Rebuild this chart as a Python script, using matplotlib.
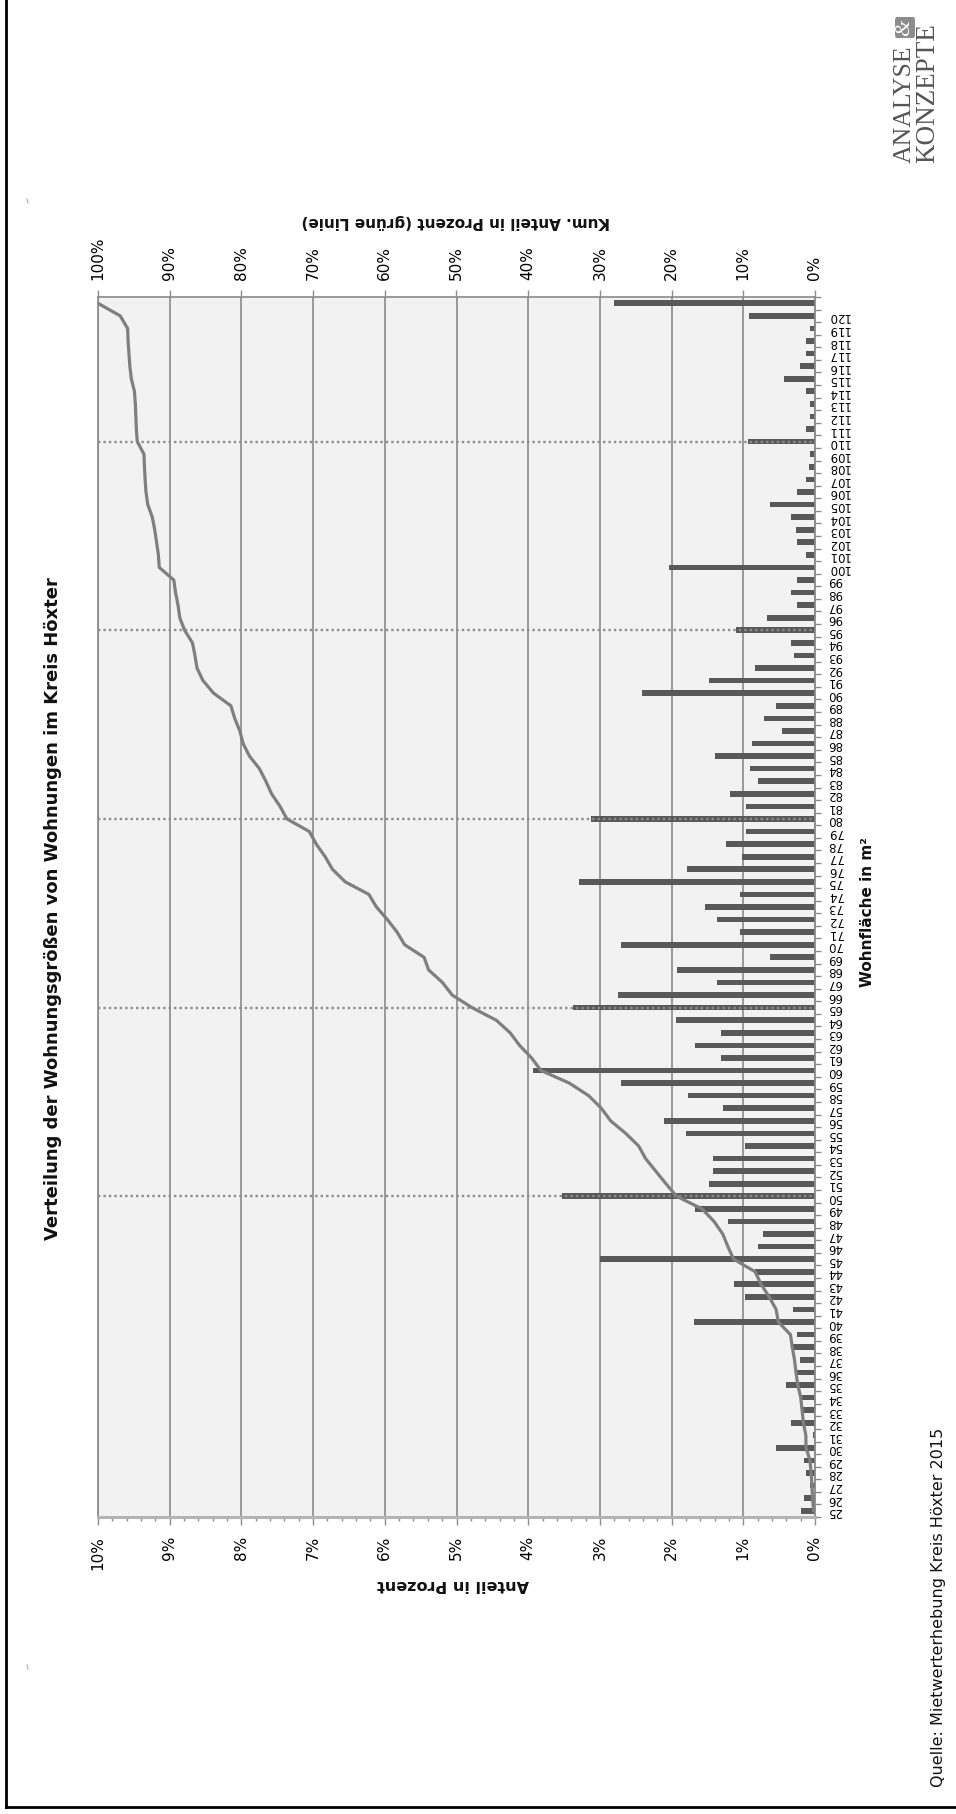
import matplotlib
matplotlib.use("Agg")
import matplotlib.pyplot as plt
from matplotlib.ticker import FixedLocator, FuncFormatter, MultipleLocator
from matplotlib.patches import FancyBboxPatch
from matplotlib.lines import Line2D
import numpy as np

# ---------------- data ----------------
categories = [str(v) for v in range(25, 121)] + [""]

anteil = [0.19, 0.16, 0.07, 0.12, 0.16, 0.55, 0.03, 0.34, 0.18, 0.19,
          0.41, 0.25, 0.21, 0.31, 0.25, 1.69, 0.31, 0.97, 1.13, 0.83,
          3.00, 0.80, 0.72, 1.21, 1.68, 3.53, 1.48, 1.42, 1.42, 0.97,
          1.80, 2.11, 1.29, 1.77, 2.70, 3.93, 1.31, 1.68, 1.31, 1.94,
          3.38, 2.75, 1.36, 1.93, 0.63, 2.71, 1.05, 1.36, 1.53, 1.05,
          3.29, 1.78, 1.02, 1.24, 0.96, 3.13, 0.96, 1.18, 0.80, 0.90,
          1.39, 0.88, 0.46, 0.71, 0.54, 2.41, 1.48, 0.83, 0.29, 0.34,
          1.10, 0.67, 0.25, 0.34, 0.25, 2.03, 0.12, 0.25, 0.26, 0.34,
          0.63, 0.25, 0.12, 0.09, 0.07, 0.93, 0.13, 0.07, 0.07, 0.13,
          0.43, 0.21, 0.12, 0.12, 0.07, 0.92, 2.80]

kumuliert = [0.19, 0.35, 0.42, 0.54, 0.70, 1.25, 1.28, 1.62, 1.80, 1.99,
             2.40, 2.65, 2.86, 3.17, 3.42, 5.11, 5.42, 6.39, 7.52, 8.35,
             11.35, 12.15, 12.87, 14.08, 15.76, 19.31, 20.79, 22.21, 23.63, 24.60,
             26.40, 28.51, 29.80, 31.57, 34.27, 38.22, 39.53, 41.21, 42.52, 44.46,
             47.84, 50.60, 51.96, 53.89, 54.52, 57.23, 58.28, 59.64, 61.17, 62.22,
             65.52, 67.30, 68.32, 69.56, 70.52, 73.65, 74.61, 75.79, 76.59, 77.49,
             78.88, 79.76, 80.22, 80.93, 81.47, 83.88, 85.36, 86.19, 86.48, 86.82,
             87.92, 88.59, 88.84, 89.18, 89.43, 91.46, 91.58, 91.83, 92.09, 92.43,
             93.06, 93.31, 93.43, 93.52, 93.59, 94.52, 94.65, 94.72, 94.79, 94.92,
             95.35, 95.56, 95.68, 95.80, 95.87, 96.90, 100.0]

dotted_categories = ["50", "65", "80", "95", "110"]

title = "Verteilung der Wohnungsgrößen von Wohnungen im Kreis Höxter"
xlabel_primary = "Anteil in Prozent"
xlabel_secondary = "Kum. Anteil in Prozent (grüne Linie)"
ylabel = "Wohnfläche in m²"
source = "Quelle: Mietwerterhebung Kreis Höxter 2015"

# ---------------- layout helpers ----------------
W, H = 956, 1815
plt.rcParams['font.family'] = ['DejaVu Sans']
fig = plt.figure(figsize=(W / 100, H / 100), dpi=100)

def fx(x):
    return x / W

def fy(y):
    return 1 - y / H

L, R, T, B = 98, 815, 298, 1518
ax = fig.add_axes([fx(L), fy(B), fx(R) - fx(L), fy(T) - fy(B)])
ax.set_facecolor('#f2f2f2')

pos = np.arange(len(categories))
ax.barh(pos, anteil, height=0.45, color='#595959', zorder=2)
ax.set_xlim(10, 0)
ax.set_ylim(-0.5, len(categories) - 0.5)

# vertical gridlines (primary major)
ax.xaxis.set_major_locator(MultipleLocator(1))
ax.xaxis.set_minor_locator(MultipleLocator(0.2))
ax.grid(axis='x', which='major', color='#8a8a8a', linewidth=1.2, zorder=0)
ax.set_axisbelow(True)
ax.xaxis.set_major_formatter(FuncFormatter(lambda v, p: f"{v:.0f}%"))
ax.tick_params(axis='x', which='major', direction='out', length=6, width=1,
               color='#8a8a8a', labelsize=11, pad=7, labelrotation=90)
ax.tick_params(axis='x', which='minor', direction='out', length=3, width=1,
               color='#8a8a8a')

# category axis on the right
ax.yaxis.tick_right()
ax.set_yticks(pos)
ax.set_yticklabels(categories)
ax.yaxis.set_minor_locator(FixedLocator(np.arange(len(categories) + 1) - 0.5))
ax.tick_params(axis='y', which='major', length=0, labelsize=8.5, pad=9,
               labelrotation=180)
ax.tick_params(axis='y', which='minor', length=4, width=1, color='#8a8a8a',
               direction='out')
for lab in ax.get_yticklabels():
    lab.set_horizontalalignment('left')
    lab.set_verticalalignment('center')

for side in ['left', 'top']:
    ax.spines[side].set_color('#8a8a8a')
    ax.spines[side].set_linewidth(1.2)
ax.spines['right'].set_color('#8a8a8a')
ax.spines['right'].set_linewidth(1.3)
ax.spines['bottom'].set_color('#b4b4b4')
ax.spines['bottom'].set_linewidth(2.2)

# secondary axis (cumulative) on top
ax2 = ax.twiny()
ax2.set_xlim(100, 0)
ax2.plot(kumuliert, pos, color='#7f7f7f', linewidth=2.3, zorder=4,
         solid_joinstyle='round')
for c in dotted_categories:
    i = categories.index(c)
    ax2.axhline(pos[i], color='#8c8c8c', linewidth=1.7,
                linestyle=(0, (1, 1.3)), zorder=3)
ax2.xaxis.set_major_locator(MultipleLocator(10))
ax2.xaxis.set_major_formatter(FuncFormatter(lambda v, p: f"{v:.0f}%"))
ax2.tick_params(axis='x', which='major', direction='out', length=5, width=1,
                color='#8a8a8a', labelsize=11, pad=8, labelrotation=90)
for s in ax2.spines.values():
    s.set_visible(False)
ax2.set_ylim(ax.get_ylim())

# ---------------- texts ----------------
bold = dict(fontweight='bold', color='#111111')
fig.text(fx(53), fy(909), title, rotation=90, ha='center', va='center',
         fontsize=13, **bold)
fig.text(fx(456), fy(221), xlabel_secondary, rotation=180, ha='center',
         va='center', fontsize=11, **bold)
fig.text(fx(453), fy(1585), xlabel_primary, rotation=180, ha='center',
         va='center', fontsize=11.5, **bold)
fig.text(fx(867), fy(912), ylabel, rotation=90, ha='center', va='center',
         fontsize=11, **bold)
fig.text(fx(939), fy(1787), source, rotation=90, ha='left', va='center',
         rotation_mode='anchor', fontsize=11.5, color='#111111')

# logo
logo_col = '#555555'
fig.text(fx(905), fy(163), "ANALYSE", rotation=90, ha='left', va='center',
         rotation_mode='anchor', fontsize=18.5, family='Liberation Serif',
         color=logo_col)
fig.text(fx(928), fy(163), "KONZEPTE", rotation=90, ha='left', va='center',
         rotation_mode='anchor', fontsize=19.5, family='Liberation Serif',
         color=logo_col)
box = FancyBboxPatch((fx(895), fy(39)), fx(20), 21 / H,
                     boxstyle="round,pad=0,rounding_size=0.002",
                     transform=fig.transFigure, facecolor='#8c8c8c',
                     edgecolor='none')
fig.patches.append(box)
fig.text(fx(905), fy(28), "&", rotation=90, ha='center', va='center',
         fontsize=15, family='Liberation Serif', style='italic', color='white')

# page frame (left and bottom visible)
fig.add_artist(Line2D([fx(6), fx(6)], [fy(0), fy(1808)], color='black',
                      linewidth=2, transform=fig.transFigure))
fig.add_artist(Line2D([fx(6), fx(956)], [fy(1808), fy(1808)], color='black',
                      linewidth=2, transform=fig.transFigure))
# tiny corner marks
for yy in (202, 1668):
    fig.add_artist(Line2D([fx(27), fx(28)], [fy(yy - 2), fy(yy + 2)],
                          color='#bbbbbb', linewidth=1,
                          transform=fig.transFigure))

fig.savefig("out.png", dpi=100, facecolor='white')
